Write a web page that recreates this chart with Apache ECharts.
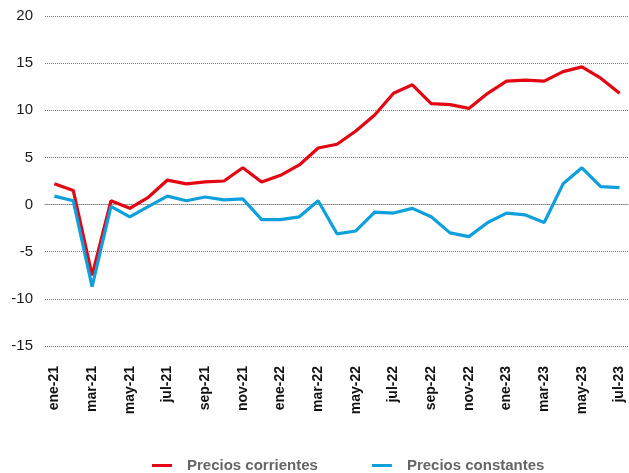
<!DOCTYPE html>
<html>
<head>
<meta charset="utf-8">
<script src="https://cdn.jsdelivr.net/npm/echarts@6/dist/echarts.min.js"></script>
<style>
  html, body { margin: 0; padding: 0; background: #fff; }
  #chart { width: 629px; height: 473px; }
</style>
</head>
<body>
<div id="chart"></div>
<script>
// meses (ene-21 .. jul-23)
var months = ["ene-21", "feb-21", "mar-21", "abr-21", "may-21", "jun-21", "jul-21", "ago-21", "sep-21", "oct-21", "nov-21", "dic-21",
  "ene-22", "feb-22", "mar-22", "abr-22", "may-22", "jun-22", "jul-22", "ago-22", "sep-22", "oct-22", "nov-22", "dic-22",
  "ene-23", "feb-23", "mar-23", "abr-23", "may-23", "jun-23", "jul-23"];

var corrientes = [2.2, 1.5, -7.5, 0.4, -0.4, 0.8, 2.6, 2.2, 2.4, 2.5, 3.9, 2.4,
  3.1, 4.2, 6.0, 6.4, 7.8, 9.5, 11.8, 12.7, 10.7, 10.6, 10.2, 11.8,
  13.1, 13.2, 13.1, 14.1, 14.6, 13.4, 11.8];

var constantes = [0.9, 0.4, -8.7, -0.2, -1.3, -0.2, 0.9, 0.4, 0.8, 0.5, 0.6, -1.6,
  -1.6, -1.3, 0.4, -3.1, -2.8, -0.8, -0.9, -0.4, -1.3, -3.0, -3.4, -1.9,
  -0.9, -1.1, -1.9, 2.2, 3.9, 1.9, 1.8];

var chart = echarts.init(document.getElementById("chart"));

var option = {
  animation: false,
  grid: { left: 45, right: -8, top: 16, bottom: 127 },
  legend: {
    bottom: -5,
    left: 147,
    itemGap: 54,
    itemWidth: 20,
    itemHeight: 3,
    icon: "rect",
    textStyle: { color: "#666", fontWeight: "bold", fontSize: 15, padding: [0, 0, 0, 10], fontFamily: "Liberation Sans, Arial" },
    data: ["Precios corrientes", "Precios constantes"]
  },
  xAxis: [
    {
      // etiquetas abajo
      type: "category",
      data: months,
      position: "bottom",
      axisLine: { show: false, onZero: false },
      axisTick: { show: false },
      axisLabel: {
        interval: 1,
        rotate: 90,
        margin: 20,
        color: "#111",
        fontWeight: "bold",
        fontSize: 14,
        fontFamily: "Liberation Sans, Arial"
      }
    },
    {
      // línea y marcas sobre el cero
      type: "category",
      data: months,
      position: "bottom",
      axisLine: { onZero: true, lineStyle: { color: "#888", type: [1, 1], width: 1 } },
      axisTick: { interval: 1, length: 5, lineStyle: { color: "#999", type: [1, 1] } },
      axisLabel: { show: false }
    }
  ],
  yAxis: {
    type: "value",
    min: -15,
    max: 20,
    interval: 5,
    axisLine: { show: false },
    axisTick: { show: false },
    axisLabel: { color: "#1a1a1a", fontSize: 15, margin: 12, fontFamily: "Liberation Sans, Arial" },
    splitLine: { lineStyle: { color: "#777", type: [1, 1], width: 1 } }
  },
  series: [
    {
      name: "Precios corrientes",
      type: "line",
      data: corrientes,
      symbol: "none",
      color: "#e30613",
      lineStyle: { width: 3.2 }
    },
    {
      name: "Precios constantes",
      type: "line",
      data: constantes,
      symbol: "none",
      color: "#0ea0dc",
      lineStyle: { width: 3.2 }
    }
  ]
};

chart.setOption(option);
</script>
</body>
</html>
